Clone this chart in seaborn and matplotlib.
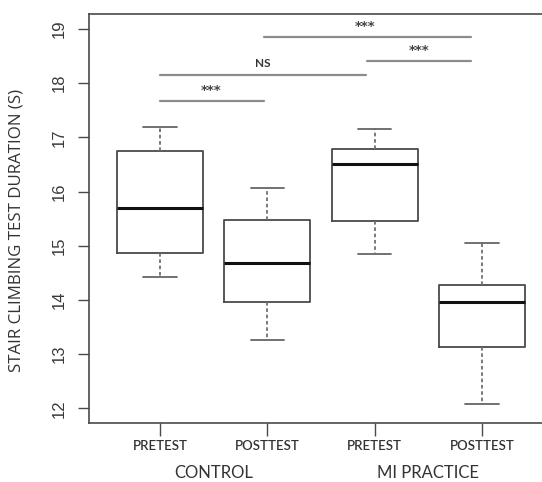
import matplotlib
matplotlib.use("Agg")
import matplotlib.pyplot as plt
import matplotlib.transforms as mtransforms
import seaborn as sns
import pandas as pd

# five-number summaries (low whisker, Q1, median, Q3, high whisker)
groups = ["CONTROL", "CONTROL", "MI PRACTICE", "MI PRACTICE"]
tests = ["PRETEST", "POSTTEST", "PRETEST", "POSTTEST"]
ctrl_pre = [14.42, 14.87, 15.70, 16.75, 17.20]
ctrl_post = [13.27, 13.97, 14.68, 15.48, 16.07]
mi_pre = [14.84, 15.46, 16.50, 16.79, 17.16]
mi_post = [12.08, 13.13, 13.96, 14.27, 15.06]
y_ticks = [12, 13, 14, 15, 16, 17, 18, 19]

# significance bars: (x start, x end, y, label)
sig_x0 = [0.0, 0.0, 1.93, 0.97]
sig_x1 = [0.97, 1.92, 2.90, 2.90]
sig_y = [17.68, 18.15, 18.41, 18.86]
sig_labels = ["***", "NS", "***", "***"]
sig_text_x = [0.475, 0.96, 2.41, 1.915]

rows = []
for i, vals in enumerate([ctrl_pre, ctrl_post, mi_pre, mi_post]):
    for v in vals:
        rows.append({"cond": f"{groups[i]} {tests[i]}", "duration": v})
df = pd.DataFrame(rows)

sns.set_style("white")
fig = plt.figure(figsize=(5.42, 4.82), dpi=100)
ax = fig.add_axes([89 / 542, 59 / 482, 464 / 542, 409.5 / 482])

edge = "#4a4a4a"
sns.boxplot(data=df, x="cond", y="duration", ax=ax, fill=False, color=edge,
            width=0.8, whis=(0, 100), linewidth=1.3, capwidths=0.31,
            whiskerprops=dict(linestyle=(0, (2.0, 1.5)), color="#707070"),
            capprops=dict(color="#666666"),
            medianprops=dict(color="#111111", linewidth=2.2))

ax.set_xlim(-0.66, 3.66)
ax.set_ylim(11.73, 19.286)
ax.set_yticks(y_ticks)
ax.set_yticklabels([str(t) for t in y_ticks], rotation=90, va="center",
                   fontsize=12, family="Liberation Sans", color="#3a3a3a")
ax.set_xticks(range(4))
ax.set_xticklabels(tests, fontsize=9.5, family="Lato", fontweight="semibold",
                   color="#333333")
ax.tick_params(axis="y", length=8, width=1, color=edge, pad=8, left=True)
ax.tick_params(axis="x", length=9, width=1, color=edge, pad=3, bottom=True)
ax.set_xlabel("")
ax.set_ylabel("STAIR CLIMBING TEST DURATION (S)", fontsize=12.2,
              family="Open Sans", color="#333333")
ax.yaxis.set_label_coords(-0.138, 0.471)

for side in ["left", "top", "bottom", "right"]:
    ax.spines[side].set_color(edge)
    ax.spines[side].set_linewidth(1.2)

for x0, x1, y, lab, tx in zip(sig_x0, sig_x1, sig_y, sig_labels, sig_text_x):
    ax.plot([x0, x1], [y, y], color="#8c8c8c", linewidth=1.6)
    if lab == "NS":
        ax.text(tx, y + 0.22, lab, ha="center", va="center", fontsize=8.5,
                family="Lato", color="#333333", fontweight="bold")
    else:
        ax.text(tx, y + 0.19, lab, ha="center", va="center", fontsize=9.5,
                family="DejaVu Sans", color="#444444", fontweight="bold")

trans = mtransforms.blended_transform_factory(ax.transData, ax.transAxes)
for label, xc in [("CONTROL", 0.5), ("MI PRACTICE", 2.5)]:
    ax.text(xc, -0.122, label, transform=trans, ha="center", va="center",
            fontsize=12, family="Lato", color="#333333")

fig.savefig("out.png", dpi=100)
